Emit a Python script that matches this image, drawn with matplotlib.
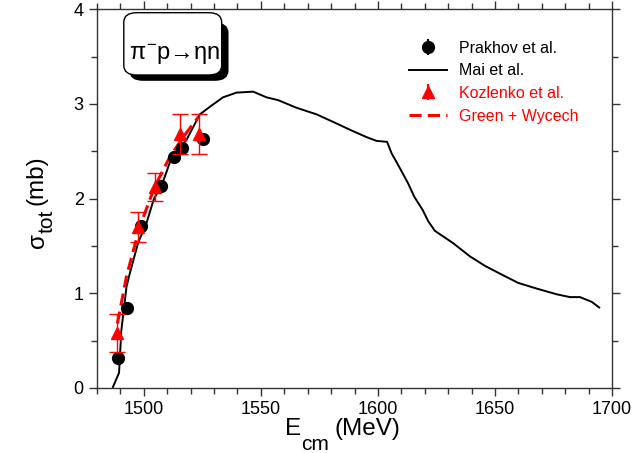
import matplotlib

matplotlib.use("Agg")

import matplotlib.pyplot as plt
from matplotlib.patches import FancyBboxPatch
from matplotlib.lines import Line2D
from matplotlib.ticker import MultipleLocator


# ---------------------------------------------------------------------------
# Data
# ---------------------------------------------------------------------------

prakhov_e = [1489.0, 1492.7, 1498.7, 1507.5, 1512.8, 1516.5, 1525.3]
prakhov_sigma = [0.32, 0.85, 1.71, 2.13, 2.44, 2.53, 2.63]
prakhov_err = [0.03, 0.04, 0.04, 0.04, 0.04, 0.04, 0.04]

kozlenko_e = [1488.7, 1497.5, 1504.8, 1515.3, 1523.5]
kozlenko_sigma = [0.58, 1.70, 2.12, 2.68, 2.68]
kozlenko_err = [0.20, 0.16, 0.15, 0.21, 0.21]

mai_e = [
    1486.8, 1489.4, 1490.4, 1492.6, 1494.0, 1497.5, 1501.1, 1504.2,
    1508.2, 1511.8, 1518.2, 1523.9, 1528.2, 1533.8, 1539.6, 1546.7,
    1552.4, 1557.4, 1565.2, 1573.8, 1580.9, 1588.7, 1595.1, 1599.4,
    1603.9, 1605.8, 1609.4, 1612.9, 1615.5, 1619.1, 1621.5, 1624.3,
    1632.1, 1639.3, 1645.7, 1653.5, 1659.9, 1667.8, 1676.3, 1682.0,
    1686.3, 1691.3, 1694.5,
]
mai_sigma = [
    0.01, 0.16, 0.61, 1.07, 1.21, 1.53, 1.74, 1.99,
    2.18, 2.43, 2.62, 2.89, 2.97, 3.07, 3.12, 3.13,
    3.07, 3.04, 2.96, 2.89, 2.81, 2.72, 2.65, 2.61,
    2.60, 2.48, 2.32, 2.16, 2.02, 1.88, 1.76, 1.66,
    1.53, 1.39, 1.29, 1.19, 1.11, 1.05, 0.99, 0.96,
    0.96, 0.91, 0.85,
]

green_e = [1488.7, 1492.6, 1498.2, 1504.7, 1511.1, 1516.8, 1523.2]
green_sigma = [0.68, 1.18, 1.70, 2.13, 2.44, 2.65, 2.86]

legend_labels = ["Prakhov et al.", "Mai et al.", "Kozlenko et al.", "Green + Wycech"]


# ---------------------------------------------------------------------------
# Style
# ---------------------------------------------------------------------------

plt.rcParams["font.family"] = ["Liberation Sans", "DejaVu Sans"]
plt.rcParams["mathtext.fontset"] = "custom"
plt.rcParams["mathtext.rm"] = "Liberation Sans"
plt.rcParams["mathtext.it"] = "Liberation Sans"
plt.rcParams["mathtext.bf"] = "Liberation Sans:bold"

RED = "#ff0000"
LABEL_SIZE = 17.5
SUB_SIZE = 15

fig = plt.figure(figsize=(6.32, 4.53), dpi=100)
ax = fig.add_axes([0.1535, 0.1435, 0.8150, 0.8360])

# Mai et al. curve
ax.plot(mai_e, mai_sigma, color="black", lw=1.4, zorder=2)

# Green + Wycech dashed
ax.plot(green_e, green_sigma, color=RED, lw=2.2, ls=(0, (4, 2)), zorder=3)

# Prakhov data (error bars hidden behind markers)
ax.errorbar(
    prakhov_e, prakhov_sigma, yerr=prakhov_err,
    fmt="o", color="black", ms=8.5, capsize=0, elinewidth=1, zorder=4,
)

# Kozlenko data
ax.errorbar(
    kozlenko_e, kozlenko_sigma, yerr=kozlenko_err,
    fmt="^", color=RED, ms=9, capsize=5.5, elinewidth=1, zorder=5,
)

ax.set_xlim(1480, 1700)
ax.set_ylim(0, 4)

ax.xaxis.set_major_locator(MultipleLocator(50))
ax.xaxis.set_minor_locator(MultipleLocator(10))
ax.yaxis.set_major_locator(MultipleLocator(1))
ax.yaxis.set_minor_locator(MultipleLocator(0.5))

ax.tick_params(which="both", direction="out", top=True, right=True,
               labelsize=13, width=1, color="#333333")
ax.tick_params(which="major", length=6)
ax.tick_params(which="minor", length=4)
for spine in ax.spines.values():
    spine.set_color("#333333")
    spine.set_linewidth(1)

# x label: E_cm (MeV), built from pieces so the subscript stays large
e_txt = ax.text(0.364, -0.124, "E", transform=ax.transAxes,
                fontsize=LABEL_SIZE, ha="left", va="baseline")
cm_txt = ax.annotate("cm", xy=(1, 0), xycoords=e_txt, xytext=(0.5, -7),
                     textcoords="offset points", fontsize=SUB_SIZE,
                     ha="left", va="baseline")
ax.annotate("(MeV)", xy=(1, 0), xycoords=(cm_txt, e_txt), xytext=(4, 0),
            textcoords="offset points", fontsize=LABEL_SIZE,
            ha="left", va="bottom")

# y label: sigma_tot (mb), rotated
s_txt = ax.text(-0.115, 0.37, "σ", transform=ax.transAxes, rotation=90,
                fontsize=LABEL_SIZE, ha="center", va="bottom")
tot_txt = ax.annotate("tot", xy=(0.5, 1), xycoords=s_txt, xytext=(7, 0),
                      textcoords="offset points", fontsize=SUB_SIZE,
                      rotation=90, ha="center", va="bottom")
ax.annotate("(mb)", xy=(0.5, 1), xycoords=(s_txt, tot_txt), xytext=(-1, 3),
            textcoords="offset points", fontsize=LABEL_SIZE,
            rotation=90, ha="center", va="bottom")

# Legend
handles = [
    ax.errorbar([], [], yerr=[], fmt="o", color="black", ms=8.5, capsize=5),
    Line2D([], [], color="black", lw=1.4),
    ax.errorbar([], [], yerr=[], fmt="^", color=RED, ms=9, capsize=5.5),
    Line2D([], [], color=RED, lw=2.2, ls=(0, (4, 2))),
]
leg = ax.legend(
    handles, legend_labels, loc="upper left", bbox_to_anchor=(0.578, 0.955),
    frameon=False, fontsize=11.5, handlelength=2.4, handletextpad=0.7,
    labelspacing=0.48, numpoints=1,
)
for text, col in zip(leg.get_texts(), ["black", "black", RED, RED]):
    text.set_color(col)

# Reaction label box with shadow
shadow = FancyBboxPatch(
    (0.064, 0.813), 0.19, 0.15, boxstyle="round,pad=0,rounding_size=0.025",
    transform=ax.transAxes, facecolor="black", edgecolor="black",
    clip_on=False, zorder=6,
)
box = FancyBboxPatch(
    (0.052, 0.8265), 0.19, 0.1645, boxstyle="round,pad=0,rounding_size=0.025",
    transform=ax.transAxes, facecolor="white", edgecolor="black", lw=1,
    clip_on=False, zorder=7,
)
ax.add_patch(shadow)
ax.add_patch(box)
ax.text(0.150, 0.880, r"$\pi^{\mathregular{-}}$p→ηn",
        transform=ax.transAxes, fontsize=17, ha="center", va="center",
        zorder=8)

fig.savefig("out.png", dpi=100)
plt.close(fig)
